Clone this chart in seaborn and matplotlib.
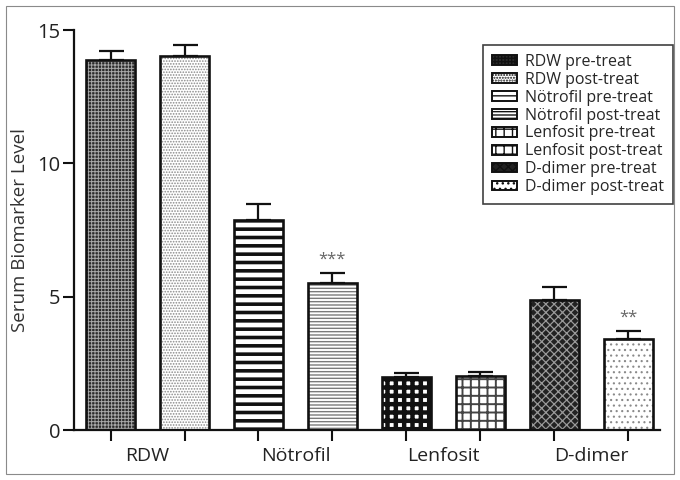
import matplotlib
matplotlib.use("Agg")
import matplotlib.pyplot as plt
from matplotlib.patches import Rectangle
import seaborn as sns
import pandas as pd
import numpy as np

# Data
groups = ["RDW", "Nötrofil", "Lenfosit", "D-dimer"]
series = ["RDW pre-treat", "RDW post-treat",
          "Nötrofil pre-treat", "Nötrofil post-treat",
          "Lenfosit pre-treat", "Lenfosit post-treat",
          "D-dimer pre-treat", "D-dimer post-treat"]
means = [13.88, 14.02, 7.87, 5.52, 2.00, 2.02, 4.87, 3.41]
err_up = [0.32, 0.42, 0.60, 0.35, 0.15, 0.14, 0.48, 0.30]
stars = {"Nötrofil post-treat": "***", "D-dimer post-treat": "**"}

# Fill / hatch style per bar: (face, hatch, hatch colour, hatch width)
styles = [
    ("#2a2a2a", "+++++", "#a8a8a8", 0.7),
    ("#ffffff", "......", "#8a8a8a", 0.8),
    ("#ffffff", "--", "#111111", 2.6),
    ("#ffffff", "-----", "#7a7a7a", 1.0),
    ("#ffffff", "++", "#111111", 3.2),
    ("#ffffff", "++", "#444444", 1.4),
    ("#222222", "xxxx", "#9a9a9a", 0.9),
    ("#ffffff", "...", "#8a8a8a", 0.8),
]

df = pd.DataFrame({"series": series, "value": means})

sns.set_theme(style="white")
plt.rcParams["font.family"] = ["Open Sans", "DejaVu Sans"]

fig = plt.figure(figsize=(6.8, 4.8), dpi=100)
ax = fig.add_axes([74 / 680, 1 - 430 / 480, (660 - 74) / 680, 400 / 480])

sns.barplot(data=df, x="series", y="value", hue="series", order=series,
            hue_order=series, palette=["white"] * 8, width=0.66,
            legend=False, ax=ax, errorbar=None)

bars = [c.patches[0] for c in ax.containers]
centers = []
for p, (face, hatch, hcol, hlw) in zip(bars, styles):
    p.set_facecolor(face)
    p.set_hatch(hatch)
    p.set_edgecolor(hcol)
    p.set_linewidth(0)
    if hasattr(p, "set_hatch_linewidth"):
        p.set_hatch_linewidth(hlw)
    ax.add_patch(Rectangle(p.get_xy(), p.get_width(), p.get_height(),
                           fill=False, ec="#111111", lw=1.9, zorder=3))
    centers.append(p.get_x() + p.get_width() / 2)

ax.errorbar(centers, means, yerr=[np.zeros(len(means)), err_up], fmt="none",
            ecolor="#111111", elinewidth=1.6, capsize=9, capthick=1.6, zorder=4)

for name, txt in stars.items():
    i = series.index(name)
    ax.text(centers[i], means[i] + err_up[i] + 0.2, txt, ha="center",
            va="bottom", fontsize=12, color="#666666")

ax.set_xlim(-0.495, 7.43)
ax.set_ylim(0, 15)
ax.set_yticks([0, 5, 10, 15])
ax.set_xticks(range(8))
ax.set_xticklabels([""] * 8)
ax.set_xticks([0.5, 2.5, 4.5, 6.5], minor=True)
ax.set_xticklabels(groups, minor=True)
ax.tick_params(axis="x", which="major", direction="out", length=8, width=1.5,
               color="#111111", bottom=True)
ax.tick_params(axis="x", which="minor", length=0, pad=12, labelsize=14,
               labelcolor="#222222")
ax.tick_params(axis="y", direction="out", length=8, width=1.5, color="#111111",
               left=True, labelsize=14.5, labelcolor="#222222", pad=2)
ax.set_xlabel("")
ax.set_ylabel("Serum Biomarker Level", fontsize=13.5, color="#333333", labelpad=6)

for s in ["top", "right"]:
    ax.spines[s].set_visible(False)
for s in ["left", "bottom"]:
    ax.spines[s].set_linewidth(1.6)
    ax.spines[s].set_color("#111111")

leg = ax.legend(handles=bars, labels=series, loc="upper right",
                bbox_to_anchor=(1.022, 0.9625), borderaxespad=0,
                fontsize=11.5, frameon=True, fancybox=False, labelspacing=0.12,
                handlelength=1.6, handleheight=0.55, handletextpad=0.5,
                borderpad=0.55)
leg.get_frame().set_edgecolor("#111111")
leg.get_frame().set_linewidth(1.2)
for h in leg.legend_handles:
    h.set_linewidth(1.4)
    h.set_edgecolor("#111111")

fig.add_artist(Rectangle((6 / 680, 6 / 480), 668 / 680, 468 / 480,
                         transform=fig.transFigure, fill=False,
                         ec="#8a8a8a", lw=0.8))

fig.savefig("out.png", dpi=100)
